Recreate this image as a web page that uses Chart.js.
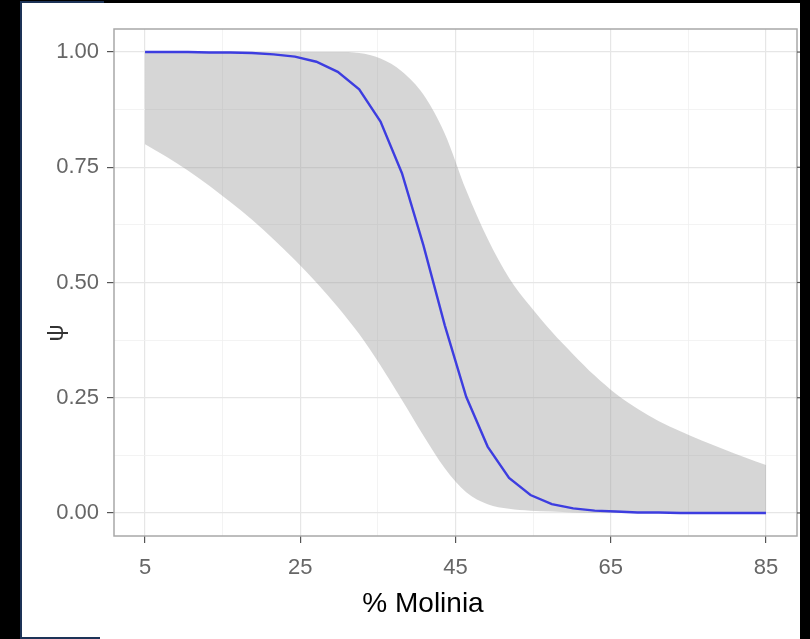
<!DOCTYPE html>
<html>
<head>
<meta charset="utf-8">
<script src="https://cdn.jsdelivr.net/npm/chart.js@4/dist/chart.umd.min.js"></script>
<style>
    html, body { margin: 0; padding: 0; background: #000; }
    body { width: 810px; height: 639px; position: relative; overflow: hidden; }
    #marco { position: absolute; left: 20px; top: 1px; width: 2px; height: 638px; background: #1d3357; }
    #marcoSup { position: absolute; left: 20px; top: 1px; width: 84px; height: 2px; background: #1d3357; }
    #marcoInf { position: absolute; left: 20px; top: 637px; width: 80px; height: 2px; background: #1d3357; }
    #hoja { position: absolute; left: 22px; top: 3px; width: 778px; height: 636px; background: #fff; }
    #lienzo { position: absolute; left: 0; top: 0; }
</style>
</head>
<body>
<div id="marco"></div>
<div id="marcoSup"></div>
<div id="hoja"><canvas id="lienzo" width="778" height="634"></canvas></div>
<div id="marcoInf"></div>
<script>
// % Molinia (prediction grid) and occupancy psi
const molinia = [5, 7.76, 10.52, 13.28, 16.03, 18.79, 21.55, 24.31, 27.07, 29.83,
    32.59, 35.34, 38.10, 40.86, 43.62, 46.38, 49.14, 51.90, 54.66, 57.41,
    60.17, 62.93, 65.69, 68.45, 71.21, 73.97, 76.72, 79.48, 82.24, 85];
const psiAjuste = [1.000, 1.000, 1.000, 0.999, 0.999, 0.998, 0.995, 0.990, 0.979, 0.957,
    0.919, 0.849, 0.737, 0.581, 0.407, 0.252, 0.144, 0.076, 0.039, 0.019,
    0.010, 0.005, 0.003, 0.001, 0.001, 0.000, 0.000, 0.000, 0.000, 0.000];
const psiInferior = [0.800, 0.773, 0.743, 0.710, 0.674, 0.636, 0.594, 0.549, 0.500, 0.447,
    0.388, 0.320, 0.245, 0.168, 0.097, 0.045, 0.019, 0.009, 0.005, 0.003,
    0.001, 0.000, 0.000, 0.000, 0.000, 0.000, 0.000, 0.000, 0.000, 0.000];
const psiSuperior = [1.000, 1.000, 1.000, 1.000, 1.000, 1.000, 1.000, 1.000, 1.000, 1.000,
    0.998, 0.986, 0.958, 0.908, 0.823, 0.700, 0.595, 0.510, 0.448, 0.393,
    0.344, 0.298, 0.258, 0.226, 0.199, 0.177, 0.157, 0.139, 0.121, 0.104];

const ticksX = [5, 15, 25, 35, 45, 55, 65, 75, 85];
const etiquetasX = [5, 25, 45, 65, 85];
const ticksY = [0, 0.125, 0.25, 0.375, 0.5, 0.625, 0.75, 0.875, 1];
const etiquetasY = [0, 0.25, 0.5, 0.75, 1];

const tituloX = "% Molinia";
const tituloY = "ψ";

const fuente = '"Liberation Sans", Arial, sans-serif';

function puntos(ys) {
    return molinia.map((x, i) => ({ x: x, y: ys[i] }));
}

function esMayor(lista, v) {
    return lista.some((m) => Math.abs(m - v) < 1e-6);
}

const marcoPanel = {
    id: "marcoPanel",
    afterDraw(chart) {
        const ctx = chart.ctx;
        const a = chart.chartArea;
        ctx.save();
        ctx.strokeStyle = "#a8a8a8";
        ctx.lineWidth = 1.5;
        ctx.strokeRect(a.left, a.top, a.right - a.left, a.bottom - a.top);

        // ticks on the right side (cut off by the frame)
        ctx.strokeStyle = "#555";
        ctx.lineWidth = 1.2;
        etiquetasY.forEach((v) => {
            const py = chart.scales.y.getPixelForValue(v);
            ctx.beginPath();
            ctx.moveTo(a.right, py);
            ctx.lineTo(a.right + 7, py);
            ctx.stroke();
        });

        // axis titles
        ctx.fillStyle = "#000";
        ctx.font = "28px " + fuente;
        ctx.textAlign = "center";
        ctx.textBaseline = "middle";
        ctx.fillText(tituloX, 401, 601);

        ctx.translate(34, 330);
        ctx.rotate(-Math.PI / 2);
        ctx.fillStyle = "#333";
        ctx.font = "24px " + fuente;
        ctx.fillText(tituloY, 0, 0);
        ctx.restore();
    }
};

new Chart(document.getElementById("lienzo").getContext("2d"), {
    type: "line",
    data: {
        datasets: [
            {
                label: "inferior",
                data: puntos(psiInferior),
                borderWidth: 0,
                borderColor: "rgba(0,0,0,0)",
                pointRadius: 0,
                cubicInterpolationMode: "monotone",
                fill: false,
                order: 2
            },
            {
                label: "superior",
                data: puntos(psiSuperior),
                borderWidth: 0,
                borderColor: "rgba(0,0,0,0)",
                backgroundColor: "rgba(153,153,153,0.4)",
                pointRadius: 0,
                cubicInterpolationMode: "monotone",
                fill: "-1",
                order: 1
            },
            {
                label: "psi",
                data: puntos(psiAjuste),
                borderColor: "#3d3de0",
                borderWidth: 2.4,
                pointRadius: 0,
                tension: 0,
                fill: false,
                order: 0
            }
        ]
    },
    options: {
        responsive: false,
        animation: false,
        devicePixelRatio: 1,
        layout: { padding: { top: 26, right: 3, left: 0, bottom: 0 } },
        plugins: {
            legend: { display: false },
            tooltip: { enabled: false }
        },
        scales: {
            x: {
                type: "linear",
                min: 1,
                max: 89,
                afterBuildTicks: (scale) => { scale.ticks = ticksX.map((v) => ({ value: v })); },
                afterFit: (scale) => { scale.height = 101; },
                border: { display: false },
                grid: {
                    color: (c) => esMayor(etiquetasX, c.tick.value) ? "#e6e6e6" : "#f0f0f0",
                    lineWidth: (c) => esMayor(etiquetasX, c.tick.value) ? 1.2 : 0.8,
                    tickColor: (c) => esMayor(etiquetasX, c.tick.value) ? "#555" : "rgba(0,0,0,0)",
                    tickWidth: 1.2,
                    tickLength: 7,
                    drawTicks: true
                },
                ticks: {
                    autoSkip: false,
                    maxRotation: 0,
                    padding: 12,
                    color: "#666",
                    font: { family: fuente, size: 22 },
                    callback: (v) => esMayor(etiquetasX, v) ? String(v) : ""
                }
            },
            y: {
                type: "linear",
                min: -0.05,
                max: 1.05,
                afterBuildTicks: (scale) => { scale.ticks = ticksY.map((v) => ({ value: v })); },
                afterFit: (scale) => { scale.width = 92; },
                border: { display: false },
                grid: {
                    color: (c) => esMayor(etiquetasY, c.tick.value) ? "#e6e6e6" : "#f0f0f0",
                    lineWidth: (c) => esMayor(etiquetasY, c.tick.value) ? 1.2 : 0.8,
                    tickColor: (c) => esMayor(etiquetasY, c.tick.value) ? "#555" : "rgba(0,0,0,0)",
                    tickWidth: 1.2,
                    tickLength: 7,
                    drawTicks: true
                },
                ticks: {
                    autoSkip: false,
                    padding: 8,
                    color: "#666",
                    font: { family: fuente, size: 22 },
                    callback: (v) => esMayor(etiquetasY, v) ? v.toFixed(2) : ""
                }
            }
        }
    },
    plugins: [marcoPanel]
});
</script>
</body>
</html>
